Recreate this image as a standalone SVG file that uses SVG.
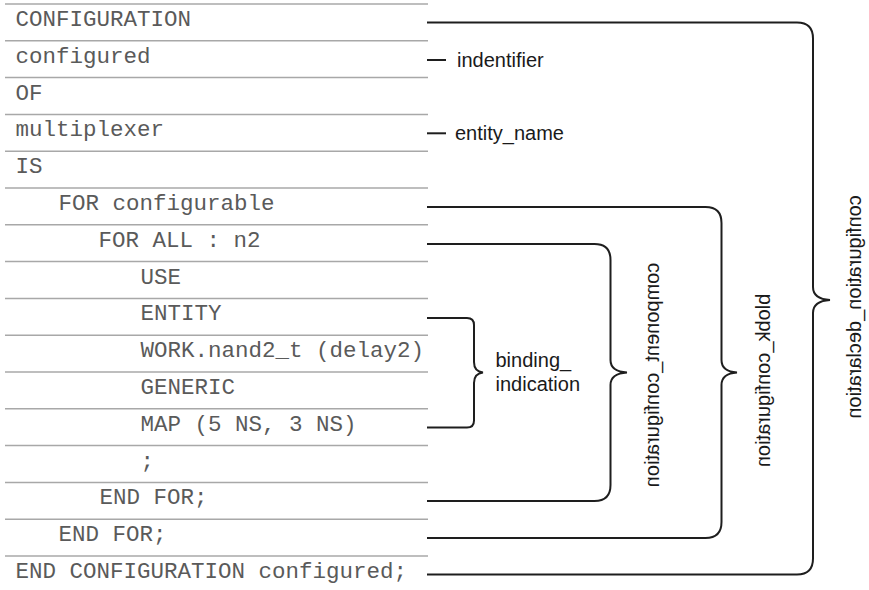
<svg xmlns="http://www.w3.org/2000/svg" width="869" height="590" viewBox="0 0 869 590">
<style>
.bg{fill:#ffffff}
.sep{stroke:#a8a8a8;stroke-width:1.5;fill:none}
.code{font-family:"Liberation Mono","Courier New",monospace;font-size:22.5px;fill:#5a5a5a}
.lbl{font-family:"Liberation Sans",Arial,sans-serif;font-size:20px;fill:#1a1a1a}
.br{stroke:#1e1e1e;stroke-width:2;fill:none}
</style>
<rect class="bg" x="0" y="0" width="869" height="590"/>
<g id="separators">
<line class="sep" x1="5" y1="4" x2="428" y2="4"/>
<line class="sep" x1="5" y1="40.8" x2="428" y2="40.8"/>
<line class="sep" x1="5" y1="77.6" x2="428" y2="77.6"/>
<line class="sep" x1="5" y1="114.4" x2="428" y2="114.4"/>
<line class="sep" x1="5" y1="151.2" x2="428" y2="151.2"/>
<line class="sep" x1="5" y1="188" x2="428" y2="188"/>
<line class="sep" x1="5" y1="224.8" x2="428" y2="224.8"/>
<line class="sep" x1="5" y1="261.6" x2="428" y2="261.6"/>
<line class="sep" x1="5" y1="298.4" x2="428" y2="298.4"/>
<line class="sep" x1="5" y1="335.2" x2="428" y2="335.2"/>
<line class="sep" x1="5" y1="372" x2="428" y2="372"/>
<line class="sep" x1="5" y1="408.8" x2="428" y2="408.8"/>
<line class="sep" x1="5" y1="445.6" x2="428" y2="445.6"/>
<line class="sep" x1="5" y1="482.4" x2="428" y2="482.4"/>
<line class="sep" x1="5" y1="519.2" x2="428" y2="519.2"/>
<line class="sep" x1="5" y1="556" x2="428" y2="556"/>
</g>
<g id="row01"><text class="code" x="15.5" y="26">CONFIGURATION</text></g>
<g id="row02"><text class="code" x="15.5" y="62.8">configured</text></g>
<g id="row03"><text class="code" x="15.5" y="99.6">OF</text></g>
<g id="row04"><text class="code" x="15.5" y="136.4">multiplexer</text></g>
<g id="row05"><text class="code" x="15.5" y="173.2">IS</text></g>
<g id="row06"><text class="code" x="58.5" y="210">FOR configurable</text></g>
<g id="row07"><text class="code" x="98.5" y="246.8">FOR ALL : n2</text></g>
<g id="row08"><text class="code" x="140.5" y="283.6">USE</text></g>
<g id="row09"><text class="code" x="140.5" y="320.4">ENTITY</text></g>
<g id="row10"><text class="code" x="140.5" y="357.2">WORK.nand2_t (delay2)</text></g>
<g id="row11"><text class="code" x="140.5" y="394">GENERIC</text></g>
<g id="row12"><text class="code" x="140.5" y="430.8">MAP (5 NS, 3 NS)</text></g>
<g id="row13"><text class="code" x="140.5" y="467.6">;</text></g>
<g id="row14"><text class="code" x="99.5" y="504.4">END FOR;</text></g>
<g id="row15"><text class="code" x="58.5" y="541.2">END FOR;</text></g>
<g id="row16"><text class="code" x="15.5" y="578">END CONFIGURATION configured;</text></g>
<g id="label-identifier"><text class="lbl" x="457" y="67">indentifier</text></g>
<g id="label-entity-name"><text class="lbl" x="455" y="140">entity_name</text></g>
<g id="label-binding"><text class="lbl" x="495.5" y="367">binding_</text><text class="lbl" x="495.5" y="391">indication</text></g>
<g id="label-component"><text class="lbl" text-anchor="middle" transform="matrix(0,1,1,0,658.5,375)">component_configuration</text></g>
<g id="label-block"><text class="lbl" text-anchor="middle" transform="matrix(0,1,1,0,769.5,380.5)">blobk_configuration</text></g>
<g id="label-config-decl"><text class="lbl" text-anchor="middle" transform="matrix(0,1,1,0,861,307)">configuration_declaration</text></g>
<g id="connectors">
<line class="br" x1="427" y1="60" x2="446" y2="60"/>
<line class="br" x1="427" y1="133.3" x2="446" y2="133.3"/>
<path class="br" d="M427,22.5 H797 Q813,22.5 813,38.5 V287 Q813,299 830,300 Q813,301 813,313 V558.5 Q813,574.5 797,574.5 H427"/>
<path class="br" d="M427,207 H705.5 Q721.5,207 721.5,223 V360 Q721.5,371.5 737,372.5 Q721.5,373.5 721.5,385 V522 Q721.5,538 705.5,538 H427"/>
<path class="br" d="M427,244 H594.5 Q610.5,244 610.5,260 V360 Q610.5,371.5 627,372.5 Q610.5,373.5 610.5,385 V485 Q610.5,501 594.5,501 H427"/>
<path class="br" d="M427,318 H467 Q474,318 474,325 V362 Q474,371.5 483,372.5 Q474,373.5 474,383 V420.5 Q474,427.5 467,427.5 H427"/>
</g>
</svg>
